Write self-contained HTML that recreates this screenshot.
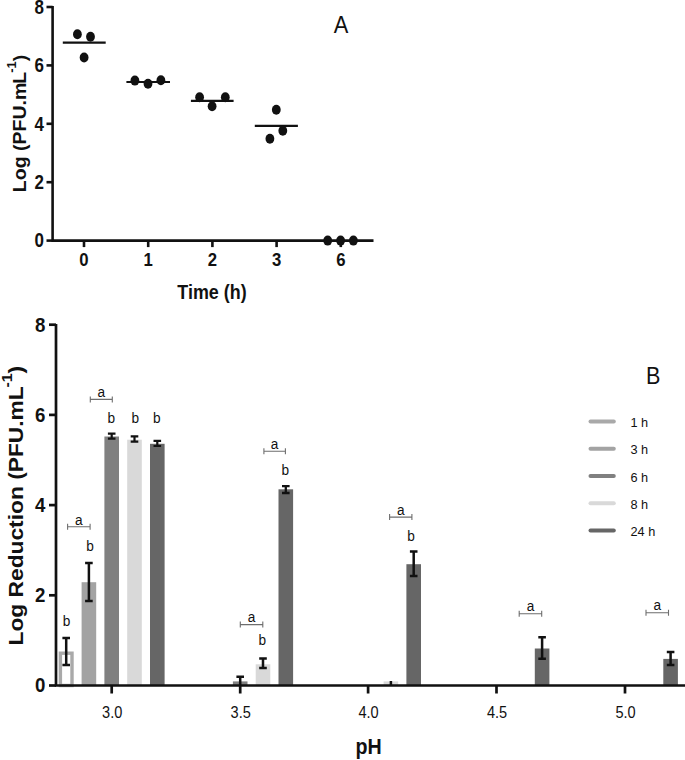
<!DOCTYPE html><html><head><meta charset="utf-8"><title>Chart</title><style>html,body{margin:0;padding:0;background:#fff}svg{display:block;position:absolute;left:0;top:0}text{font-family:"Liberation Sans",sans-serif;fill:#111}.b{font-weight:bold}</style></head><body>
<svg width="685" height="760" viewBox="0 0 685 760">
<rect width="685" height="760" fill="#fff"/>
<g stroke="#111" stroke-width="2.6" fill="none">
<path d="M52.6 6V240.6H373.5"/>
<path d="M46.5 240.6H52.6"/>
<path d="M46.5 182.2H52.6"/>
<path d="M46.5 123.8H52.6"/>
<path d="M46.5 65.4H52.6"/>
<path d="M46.5 7.0H52.6"/>
<path d="M84 240.6V247.1"/>
<path d="M148.2 240.6V247.1"/>
<path d="M212.4 240.6V247.1"/>
<path d="M276.6 240.6V247.1"/>
<path d="M340.8 240.6V247.1"/>
</g>
<text transform="translate(43.9 247.3) scale(0.87 1)" font-size="19.5" text-anchor="end" class="b">0</text>
<text transform="translate(43.9 188.9) scale(0.87 1)" font-size="19.5" text-anchor="end" class="b">2</text>
<text transform="translate(43.9 130.5) scale(0.87 1)" font-size="19.5" text-anchor="end" class="b">4</text>
<text transform="translate(43.9 72.1) scale(0.87 1)" font-size="19.5" text-anchor="end" class="b">6</text>
<text transform="translate(43.9 13.7) scale(0.87 1)" font-size="19.5" text-anchor="end" class="b">8</text>
<text transform="translate(84.0 266.4) scale(0.88 1)" font-size="19" text-anchor="middle" class="b">0</text>
<text transform="translate(148.2 266.4) scale(0.88 1)" font-size="19" text-anchor="middle" class="b">1</text>
<text transform="translate(212.4 266.4) scale(0.88 1)" font-size="19" text-anchor="middle" class="b">2</text>
<text transform="translate(276.6 266.4) scale(0.88 1)" font-size="19" text-anchor="middle" class="b">3</text>
<text transform="translate(340.8 266.4) scale(0.88 1)" font-size="19" text-anchor="middle" class="b">6</text>
<text transform="translate(212.0 298.6) scale(0.92 1)" font-size="19.5" text-anchor="middle" class="b">Time (h)</text>
<text transform="translate(25.5 123.4) rotate(-90) scale(1.085 1)" font-size="18" text-anchor="middle" class="b">Log (PFU.m<tspan dx="-1">L</tspan><tspan dx="-0.8" dy="-9.3" font-size="12">-1</tspan><tspan dy="9.3">)</tspan></text>
<text transform="translate(341.0 32.6) scale(0.91 1)" font-size="24" text-anchor="middle">A</text>
<path d="M62.8 42.6H105.7" stroke="#111" stroke-width="2.2"/>
<path d="M126.4 82H170" stroke="#111" stroke-width="2.2"/>
<path d="M190.9 100.8H233.6" stroke="#111" stroke-width="2.2"/>
<path d="M254.8 125.9H297.9" stroke="#111" stroke-width="2.2"/>
<ellipse cx="77.4" cy="34.2" rx="4.4" ry="5" fill="#111"/>
<ellipse cx="90.5" cy="36.8" rx="4.4" ry="5" fill="#111"/>
<ellipse cx="84.1" cy="57.5" rx="4.4" ry="5" fill="#111"/>
<ellipse cx="134.9" cy="80.6" rx="4.4" ry="5" fill="#111"/>
<ellipse cx="148" cy="83.8" rx="4.4" ry="5" fill="#111"/>
<ellipse cx="160.9" cy="80.3" rx="4.4" ry="5" fill="#111"/>
<ellipse cx="199.6" cy="97.3" rx="4.4" ry="5" fill="#111"/>
<ellipse cx="212.1" cy="106.3" rx="4.4" ry="5" fill="#111"/>
<ellipse cx="225.3" cy="97.3" rx="4.4" ry="5" fill="#111"/>
<ellipse cx="276.3" cy="109.8" rx="4.4" ry="5" fill="#111"/>
<ellipse cx="282.8" cy="130.7" rx="4.4" ry="5" fill="#111"/>
<ellipse cx="269.9" cy="138.7" rx="4.4" ry="5" fill="#111"/>
<ellipse cx="327.7" cy="240.6" rx="4.4" ry="5" fill="#111"/>
<ellipse cx="340.6" cy="240.6" rx="4.4" ry="5" fill="#111"/>
<ellipse cx="353.4" cy="240.6" rx="4.4" ry="5" fill="#111"/>
<rect x="60.4" y="653.2" width="11.6" height="32.3" fill="#fff" stroke="#a9a9a9" stroke-width="3.4"/>
<path d="M66.2 638.0V665.0M62.4 638.0h7.6M62.4 665.0h7.6" stroke="#111" stroke-width="2.5" fill="none"/>
<rect x="81.6" y="582.2" width="14.6" height="103.3" fill="#a3a3a3"/>
<path d="M88.9 563.0V601.0M85.1 563.0h7.6M85.1 601.0h7.6" stroke="#111" stroke-width="2.5" fill="none"/>
<rect x="104.4" y="436.5" width="14.6" height="249.0" fill="#808080"/>
<path d="M111.7 433.6V438.6M107.9 433.6h7.6M107.9 438.6h7.6" stroke="#111" stroke-width="2.2" fill="none"/>
<rect x="127.2" y="439.7" width="14.6" height="245.8" fill="#d9d9d9"/>
<path d="M134.5 436.4V441.6M130.7 436.4h7.6M130.7 441.6h7.6" stroke="#111" stroke-width="2.2" fill="none"/>
<rect x="150.0" y="443.8" width="14.6" height="241.7" fill="#666666"/>
<path d="M157.3 440.8V446.0M153.5 440.8h7.6M153.5 446.0h7.6" stroke="#111" stroke-width="2.2" fill="none"/>
<rect x="232.9" y="681.4" width="14.6" height="4.1" fill="#808080"/>
<path d="M240.2 676.8V686M236.4 676.8h7.6" stroke="#111" stroke-width="2.5" fill="none"/>
<rect x="255.7" y="664.3" width="14.6" height="21.2" fill="#d9d9d9"/>
<path d="M263.0 658.5V668.0M259.2 658.5h7.6M259.2 668.0h7.6" stroke="#111" stroke-width="2.5" fill="none"/>
<rect x="278.5" y="489.3" width="14.6" height="196.2" fill="#666666"/>
<path d="M285.8 486.2V493.0M282.0 486.2h7.6M282.0 493.0h7.6" stroke="#111" stroke-width="2.3" fill="none"/>
<rect x="383.6" y="681.4" width="14.6" height="4.1" fill="#d9d9d9"/>
<path d="M390.9 681V686" stroke="#111" stroke-width="2.5"/>
<rect x="406.4" y="564.2" width="14.6" height="121.3" fill="#666666"/>
<path d="M413.7 551.4V575.9M409.9 551.4h7.6M409.9 575.9h7.6" stroke="#111" stroke-width="2.5" fill="none"/>
<rect x="534.8" y="648.5" width="14.6" height="37.0" fill="#666666"/>
<path d="M542.1 637.3V658.8M538.3 637.3h7.6M538.3 658.8h7.6" stroke="#111" stroke-width="2.5" fill="none"/>
<rect x="663.3" y="658.9" width="14.6" height="26.6" fill="#666666"/>
<path d="M670.6 652.1V664.9M666.8 652.1h7.6M666.8 664.9h7.6" stroke="#111" stroke-width="2.5" fill="none"/>
<g stroke="#111" stroke-width="2.7" fill="none">
<path d="M56 324V685.5H685"/>
<path d="M49 685.5H56"/>
<path d="M49 595.3H56"/>
<path d="M49 505.1H56"/>
<path d="M49 414.9H56"/>
<path d="M49 324.7H56"/>
<path d="M111.7 685.5V693.5"/>
<path d="M240.2 685.5V693.5"/>
<path d="M368.1 685.5V693.5"/>
<path d="M496.5 685.5V693.5"/>
<path d="M625.0 685.5V693.5"/>
</g>
<text transform="translate(45.4 692.3) scale(0.89 1)" font-size="21" text-anchor="end" class="b">0</text>
<text transform="translate(45.4 602.1) scale(0.89 1)" font-size="21" text-anchor="end" class="b">2</text>
<text transform="translate(45.4 511.9) scale(0.89 1)" font-size="21" text-anchor="end" class="b">4</text>
<text transform="translate(45.4 421.7) scale(0.89 1)" font-size="21" text-anchor="end" class="b">6</text>
<text transform="translate(45.4 331.5) scale(0.89 1)" font-size="21" text-anchor="end" class="b">8</text>
<text transform="translate(112.2 718.0) scale(0.91 1)" font-size="16" text-anchor="middle">3.0</text>
<text transform="translate(240.7 718.0) scale(0.91 1)" font-size="16" text-anchor="middle">3.5</text>
<text transform="translate(368.6 718.0) scale(0.91 1)" font-size="16" text-anchor="middle">4.0</text>
<text transform="translate(497.0 718.0) scale(0.91 1)" font-size="16" text-anchor="middle">4.5</text>
<text transform="translate(625.5 718.0) scale(0.91 1)" font-size="16" text-anchor="middle">5.0</text>
<text transform="translate(368.6 753.8) scale(0.87 1)" font-size="22.6" text-anchor="middle" class="b">pH</text>
<text transform="translate(23.4 505.7) rotate(-90) scale(1.095 1)" font-size="20.8" text-anchor="middle" class="b">Log Reduction (PFU.mL<tspan dx="-1.2" dy="-11" font-size="14.5">-1</tspan><tspan dy="11">)</tspan></text>
<text transform="translate(653.2 384.0) scale(0.9 1)" font-size="24" text-anchor="middle">B</text>
<path d="M67.6 526.7H90.1M67.6 523.7v6M90.1 523.7v6" stroke="#6e6e6e" stroke-width="1.1" fill="none"/>
<text transform="translate(78.8 524.8) scale(0.91 1)" font-size="15" text-anchor="middle">a</text>
<text transform="translate(66.6 625.9) scale(0.91 1)" font-size="15" text-anchor="middle">b</text>
<text transform="translate(90.1 550.8) scale(0.91 1)" font-size="15" text-anchor="middle">b</text>
<path d="M90.3 399.4H112.3M90.3 396.4v6M112.3 396.4v6" stroke="#6e6e6e" stroke-width="1.1" fill="none"/>
<text transform="translate(101.3 397.0) scale(0.91 1)" font-size="15" text-anchor="middle">a</text>
<text transform="translate(111.2 422.9) scale(0.91 1)" font-size="15" text-anchor="middle">b</text>
<text transform="translate(135.2 422.9) scale(0.91 1)" font-size="15" text-anchor="middle">b</text>
<text transform="translate(156.7 422.9) scale(0.91 1)" font-size="15" text-anchor="middle">b</text>
<path d="M240.3 624.6H262.8M240.3 621.6v6M262.8 621.6v6" stroke="#6e6e6e" stroke-width="1.1" fill="none"/>
<text transform="translate(251.6 622.0) scale(0.91 1)" font-size="15" text-anchor="middle">a</text>
<text transform="translate(262.2 645.2) scale(0.91 1)" font-size="15" text-anchor="middle">b</text>
<path d="M263.9 451.3H285.4M263.9 448.3v6M285.4 448.3v6" stroke="#6e6e6e" stroke-width="1.1" fill="none"/>
<text transform="translate(274.6 449.0) scale(0.91 1)" font-size="15" text-anchor="middle">a</text>
<text transform="translate(285.4 474.5) scale(0.91 1)" font-size="15" text-anchor="middle">b</text>
<path d="M389.6 517.1H411.9M389.6 514.1v6M411.9 514.1v6" stroke="#6e6e6e" stroke-width="1.1" fill="none"/>
<text transform="translate(400.8 514.6) scale(0.91 1)" font-size="15" text-anchor="middle">a</text>
<text transform="translate(411.0 540.6) scale(0.91 1)" font-size="15" text-anchor="middle">b</text>
<path d="M519.2 613.8H541.7M519.2 610.8v6M541.7 610.8v6" stroke="#6e6e6e" stroke-width="1.1" fill="none"/>
<text transform="translate(530.5 611.0) scale(0.91 1)" font-size="15" text-anchor="middle">a</text>
<path d="M646.0 612.8H668.5M646.0 609.8v6M668.5 609.8v6" stroke="#6e6e6e" stroke-width="1.1" fill="none"/>
<text transform="translate(657.2 610.0) scale(0.91 1)" font-size="15" text-anchor="middle">a</text>
<path d="M590.5 421.6H613.8" stroke="#a9a9a9" stroke-width="4" stroke-linecap="round"/>
<text transform="translate(630.5 427.2) scale(0.98 1)" font-size="13" text-anchor="start">1 h</text>
<path d="M590.5 448.8H613.8" stroke="#a3a3a3" stroke-width="4" stroke-linecap="round"/>
<text transform="translate(630.5 454.4) scale(0.98 1)" font-size="13" text-anchor="start">3 h</text>
<path d="M590.5 476H613.8" stroke="#808080" stroke-width="4" stroke-linecap="round"/>
<text transform="translate(630.5 481.6) scale(0.98 1)" font-size="13" text-anchor="start">6 h</text>
<path d="M590.5 503.2H613.8" stroke="#d9d9d9" stroke-width="4" stroke-linecap="round"/>
<text transform="translate(630.5 508.8) scale(0.98 1)" font-size="13" text-anchor="start">8 h</text>
<path d="M590.5 530.5H613.8" stroke="#666666" stroke-width="4" stroke-linecap="round"/>
<text transform="translate(630.5 536.1) scale(0.98 1)" font-size="13" text-anchor="start">24 h</text>
</svg></body></html>
